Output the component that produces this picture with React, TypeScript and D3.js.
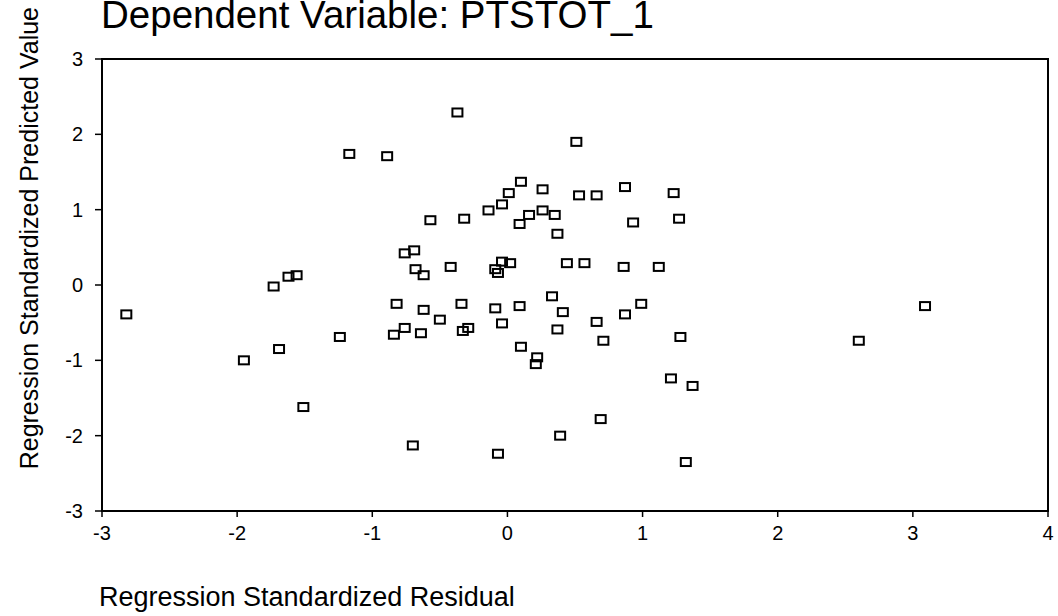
import React from "react";
import * as d3 from "d3";

const residuals = [
  -0.37, -1.17, -0.89, 0.10, 0.01, -0.04, -0.14, 0.16, 0.09, -0.57, -0.32,
  -0.76, -0.69, -0.68, -0.62, -0.42, -0.09, -0.07, -0.04, 0.02, -1.73, -1.62,
  -1.56, -2.82, -1.95, -1.69, -1.51, -1.24, -0.82, -0.76, -0.84, -0.62, -0.64,
  -0.50, -0.34, -0.33, -0.29, -0.09, -0.04, 0.09, 0.10, -0.70, -0.07, 0.51,
  0.26, 0.53, 0.66, 0.87, 0.26, 0.35, 0.37, 0.93, 0.44, 0.57, 0.86, 1.12,
  1.23, 1.27, 0.33, 0.41, 0.37, 0.66, 0.87, 0.99, 0.71, 0.22, 0.21, 1.28,
  1.21, 1.37, 0.69, 0.39, 1.32, 3.09, 2.60,
];
const predicted = [
  2.29, 1.74, 1.71, 1.37, 1.22, 1.07, 0.99, 0.93, 0.81, 0.86, 0.88,
  0.42, 0.46, 0.21, 0.13, 0.24, 0.21, 0.16, 0.31, 0.29, -0.02, 0.11,
  0.13, -0.39, -1.0, -0.85, -1.62, -0.69, -0.25, -0.57, -0.66, -0.33, -0.64,
  -0.46, -0.25, -0.61, -0.57, -0.31, -0.51, -0.28, -0.82, -2.13, -2.24, 1.9,
  1.27, 1.19, 1.19, 1.3, 0.99, 0.93, 0.68, 0.83, 0.29, 0.29, 0.24, 0.24,
  1.22, 0.88, -0.15, -0.36, -0.59, -0.49, -0.39, -0.25, -0.74, -0.96, -1.05, -0.69,
  -1.24, -1.34, -1.78, -2.0, -2.35, -0.28, -0.74,
];
const xTicks = [-3, -2, -1, 0, 1, 2, 3, 4];
const yTicks = [-3, -2, -1, 0, 1, 2, 3];
const titleText = "Dependent Variable: PTSTOT_1";
const xTitle = "Regression Standardized Residual";
const yTitle = "Regression Standardized Predicted Value";

const W = 1058;
const H = 616;
const FONT = "'Liberation Sans', Arial, Helvetica, sans-serif";

export default function App() {
  const left = 102;
  const right = 1048;
  const top = 59;
  const bottom = 511;
  const x = d3.scaleLinear().domain([-3, 4]).range([left, right]);
  const y = d3.scaleLinear().domain([-3, 3]).range([bottom, top]);
  const pts = residuals.map((r, i) => [r, predicted[i]]);
  const mw = 10;
  const mh = 8;
  return (
    <svg
      width={W}
      height={H}
      style={{ position: "absolute", left: 0, top: 0, background: "#fff" }}
      fontFamily={FONT}
    >
      <rect x={0} y={0} width={W} height={H} fill="#fff" />
      <text x={101} y={28} fontSize={38.5} fill="#000">
        {titleText}
      </text>
      <text
        transform={`translate(38, 7) rotate(-90)`}
        textAnchor="end"
        fontSize={25}
        fill="#000"
      >
        {yTitle}
      </text>
      <text x={99} y={606} fontSize={27} fill="#000">
        {xTitle}
      </text>
      <rect
        x={left}
        y={top}
        width={right - left}
        height={bottom - top}
        fill="none"
        stroke="#000"
        strokeWidth={2}
      />
      {yTicks.map((t) => (
        <g key={"y" + t}>
          <line x1={left - 7} x2={left} y1={y(t)} y2={y(t)} stroke="#000" strokeWidth={1.5} />
          <text
            x={left - 19}
            y={y(t)}
            dy="0.35em"
            textAnchor="end"
            fontSize={20}
            fill="#000"
          >
            {t}
          </text>
        </g>
      ))}
      {xTicks.map((t) => (
        <g key={"x" + t}>
          <line x1={x(t)} x2={x(t)} y1={bottom} y2={bottom + 6} stroke="#000" strokeWidth={1.5} />
          <text x={x(t)} y={540} textAnchor="middle" fontSize={20} fill="#000">
            {t}
          </text>
        </g>
      ))}
      {pts.map(([r, p], i) => (
        <rect
          key={i}
          x={x(r) - mw / 2}
          y={y(p) - mh / 2}
          width={mw}
          height={mh}
          fill="none"
          stroke="#000"
          strokeWidth={2}
        />
      ))}
    </svg>
  );
}
